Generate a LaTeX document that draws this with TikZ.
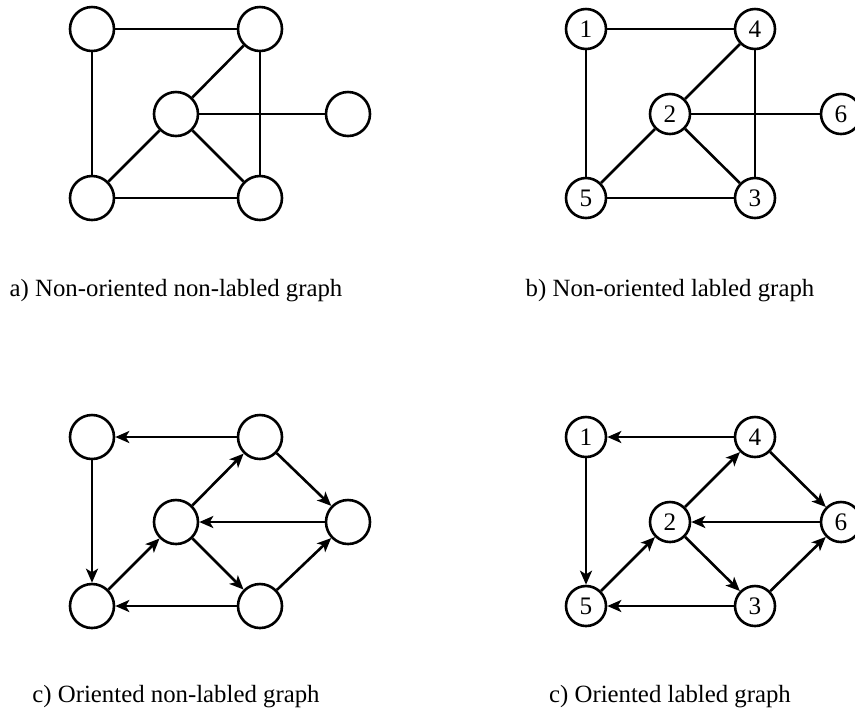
\documentclass[tikz,border=0pt]{standalone}
\usepackage{fontspec}
\setmainfont{Liberation Serif}
\usetikzlibrary{arrows.meta}

\begin{document}
\begin{tikzpicture}[x=0.5pt, y=-0.5pt, line width=1.3pt,
  vtx/.style={draw, circle, minimum size=22pt, inner sep=0pt},
  lvtx/.style={draw, circle, minimum size=20pt, inner sep=0pt, font=\fontsize{12.6}{15}\selectfont},
  arc/.style={-{Stealth[length=7pt, width=6pt, inset=1.8pt]}},
  caption/.style={anchor=base, font=\fontsize{12.4}{15}\selectfont}]

\useasboundingbox (0,0) rectangle (855,709);

% a) Nodes (vertices)
\node[vtx] (a1) at (92, 29) {};
\node[vtx] (a4) at (260, 29) {};
\node[vtx] (a2) at (176, 114) {};
\node[vtx] (a6) at (348, 114) {};
\node[vtx] (a5) at (92, 198) {};
\node[vtx] (a3) at (260, 198) {};

% a) Edges
\draw (a1) -- (a4);
\draw (a1) -- (a5);
\draw (a4) -- (a2);
\draw (a4) -- (a3);
\draw (a2) -- (a6);
\draw (a2) -- (a5);
\draw (a2) -- (a3);
\draw (a5) -- (a3);

\node[caption] (capa) at (176, 296) {a) Non-oriented non-labled graph};

% b) Nodes (vertices)
\node[lvtx] (b1) at (586, 29) {1};
\node[lvtx] (b4) at (755, 29) {4};
\node[lvtx] (b2) at (670, 114) {2};
\node[lvtx] (b6) at (841, 114) {6};
\node[lvtx] (b5) at (586, 198) {5};
\node[lvtx] (b3) at (755, 198) {3};

% b) Edges
\draw (b1) -- (b4);
\draw (b1) -- (b5);
\draw (b4) -- (b2);
\draw (b4) -- (b3);
\draw (b2) -- (b6);
\draw (b2) -- (b5);
\draw (b2) -- (b3);
\draw (b5) -- (b3);

\node[caption] (capb) at (670, 296) {b) Non-oriented labled graph};

% c) Nodes (vertices)
\node[vtx] (c1) at (92, 437) {};
\node[vtx] (c4) at (260, 437) {};
\node[vtx] (c2) at (176, 522) {};
\node[vtx] (c6) at (348, 522) {};
\node[vtx] (c5) at (92, 606) {};
\node[vtx] (c3) at (260, 606) {};

% c) Arrows
\draw[arc] (c4) -- (c1);
\draw[arc] (c1) -- (c5);
\draw[arc] (c5) -- (c2);
\draw[arc] (c2) -- (c4);
\draw[arc] (c4) -- (c6);
\draw[arc] (c6) -- (c2);
\draw[arc] (c2) -- (c3);
\draw[arc] (c3) -- (c5);
\draw[arc] (c3) -- (c6);

\node[caption] (capc) at (176, 702) {c) Oriented non-labled graph};

% d) Nodes (vertices)
\node[lvtx] (d1) at (586, 437) {1};
\node[lvtx] (d4) at (755, 437) {4};
\node[lvtx] (d2) at (670, 522) {2};
\node[lvtx] (d6) at (841, 522) {6};
\node[lvtx] (d5) at (586, 606) {5};
\node[lvtx] (d3) at (755, 606) {3};

% d) Arrows
\draw[arc] (d4) -- (d1);
\draw[arc] (d1) -- (d5);
\draw[arc] (d5) -- (d2);
\draw[arc] (d2) -- (d4);
\draw[arc] (d4) -- (d6);
\draw[arc] (d6) -- (d2);
\draw[arc] (d2) -- (d3);
\draw[arc] (d3) -- (d5);
\draw[arc] (d3) -- (d6);

\node[caption] (capd) at (670, 702) {c) Oriented labled graph};

\end{tikzpicture}
\end{document}
